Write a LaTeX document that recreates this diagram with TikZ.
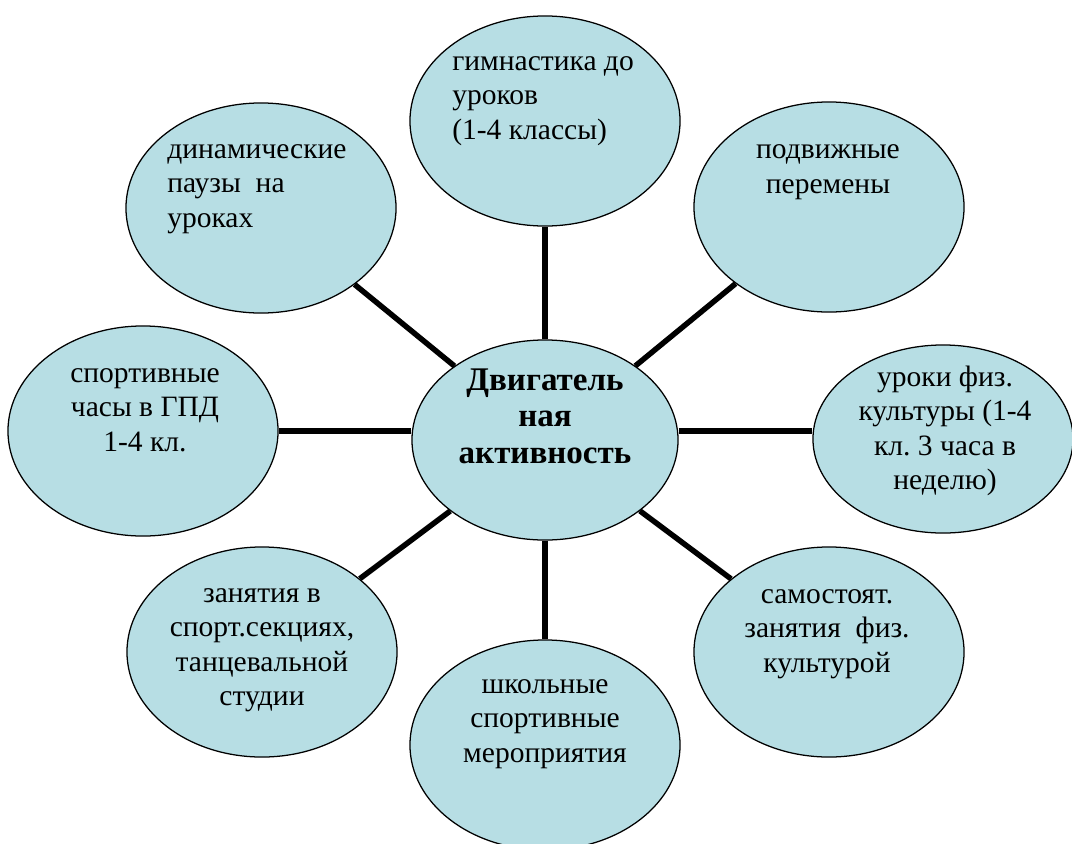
\documentclass[tikz,border=0pt]{standalone}
\usepackage{fontspec}
\setmainfont{Liberation Serif}
\usetikzlibrary{shapes.geometric}
\definecolor{aqua}{RGB}{183,222,228}
\frenchspacing
\tikzset{%
  blob/.style = {shape=ellipse, draw, fill=aqua, line width=0.9pt,%
                 inner sep=0pt, minimum width=6.75cm, minimum height=5.25cm},%
  hub/.style  = {blob, minimum width=6.65cm, minimum height=5cm},%
  txt/.style  = {align=center, inner sep=0pt,%
                 font=\fontsize{21}{24.5}\selectfont},%
  bold/.style = {txt, font=\fontsize{23.5}{26}\selectfont\bfseries},%
  link/.style = {line width=3.9pt}%
}
\begin{document}
\begin{tikzpicture}[x=0.025cm,y=-0.025cm]
	\useasboundingbox (0,0) rectangle (1072,843);
	% bubbles
	\node [hub]  (akt)  at (545,440) {};
	\node [blob] (gym)  at (545,121) {};
	\node [blob] (dyn)  at (261,208) {};
	\node [blob] (per)  at (829,207) {};
	\node [blob] (gpd)  at (143,431) {};
	\node [blob, minimum width=6.5cm, minimum height=4.7cm] (urok) at (943,439) {};
	\node [blob] (sek)  at (262,652) {};
	\node [blob] (sam)  at (829,652) {};
	\node [blob] (shk)  at (545,745) {};
	% spokes
	\draw [link] (akt) -- (gym);
	\draw [link] (akt) -- (dyn);
	\draw [link] (akt) -- (per);
	\draw [link] (gpd) -- (gpd -| akt.west);
	\draw [link] (akt.east |- gpd) -- (urok.west |- gpd);
	\draw [link] (akt) -- (sek);
	\draw [link] (akt) -- (sam);
	\draw [link] (akt) -- (shk);
	% texts
	\node [bold] (akt-t) at (545,416) {Двигатель\\ная\\активность};
	\node [txt, align=left, anchor=west] (gym-t) at (452,101) {гимнастика до\\уроков\\(1-4 классы)};
	\node [txt, align=left, anchor=west] (dyn-t) at (167,189) {динамические\\паузы~ на\\уроках};
	\node [txt] (per-t)  at (828,172) {подвижные\\перемены};
	\node [txt] (gpd-t)  at (145,410) {спортивные\\часы в ГПД\\1-4 кл.};
	\node [txt] (urok-t) at (945,431) {уроки физ.\\культуры (1-4\\кл. 3 часа в\\неделю)};
	\node [txt] (sek-t)  at (262,650) {занятия в\\спорт.секциях,\\танцевальной\\студии};
	\node [txt] (sam-t)  at (827,634) {самостоят.\\занятия~ физ.\\культурой};
	\node [txt] (shk-t)  at (545,724) {школьные\\спортивные\\мероприятия};
\end{tikzpicture}
\end{document}
